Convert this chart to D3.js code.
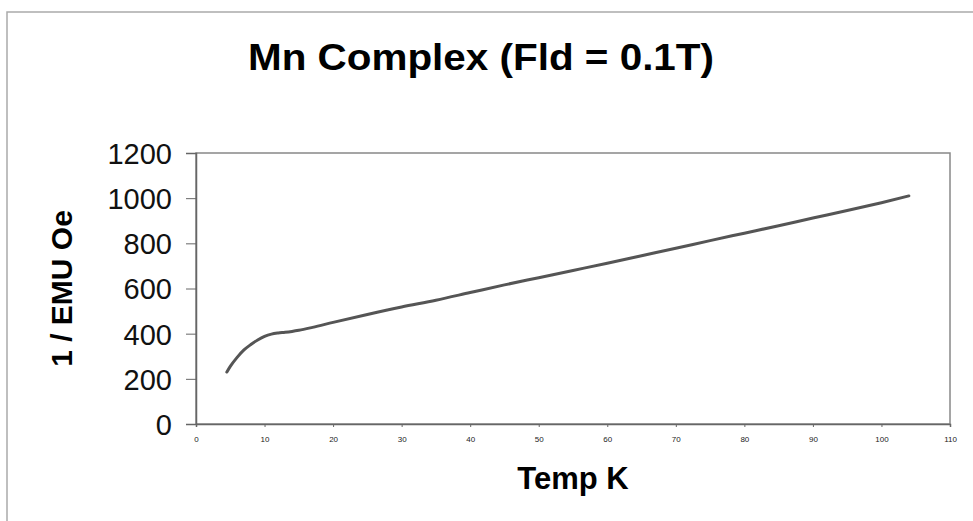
<!DOCTYPE html>
<html>
<head>
<meta charset="utf-8">
<script src="https://cdn.jsdelivr.net/npm/d3@7"></script>
<style>
  body { margin: 0; background: #fff; }
  svg { display: block; font-family: "Liberation Sans", Arial, sans-serif; }
</style>
</head>
<body>
<svg id="svg" width="973" height="521"></svg>
<script>
// temperature (K) and inverse susceptibility
var temps = [4.5, 5, 6, 7, 8, 9, 10, 11, 12, 13, 14, 15, 17, 20, 25, 30, 35, 40, 45, 50,
    55, 60, 65, 70, 75, 80, 85, 90, 95, 100, 104];
var invChi = [230, 255, 295, 328, 352, 372, 388, 398, 403, 406, 410, 415, 428, 450, 485, 518, 548, 582, 616, 648,
    680, 712, 745, 778, 812, 845, 878, 912, 945, 980, 1010];
var xTicks = [0, 10, 20, 30, 40, 50, 60, 70, 80, 90, 100, 110];
var yTicks = [0, 200, 400, 600, 800, 1000, 1200];

function drawChart() {
    var svg = d3.select('#svg');
    var left = 196, right = 950, top = 153, bottom = 424;

    // outer chart frame
    svg.append('rect')
        .attr('x', 7).attr('y', 12)
        .attr('width', 1000).attr('height', 540)
        .attr('fill', 'none')
        .attr('stroke', '#aaa')
        .attr('stroke-width', 1.5);

    var scX = d3.scaleLinear().domain([0, 110]).range([left, right]);
    var scY = d3.scaleLinear().domain([0, 1200]).range([bottom, top]);

    // plot box
    svg.append('rect')
        .attr('x', left).attr('y', top)
        .attr('width', right - left).attr('height', bottom - top)
        .attr('fill', 'none')
        .attr('stroke', '#888')
        .attr('stroke-width', 1.5);

    var yAxis = svg.append('g')
        .attr('transform', 'translate(' + left + ',0)')
        .call(d3.axisLeft(scY).tickValues(yTicks).tickFormat(d3.format('d')).tickSize(10).tickPadding(14));
    yAxis.select('.domain').attr('stroke', '#666').attr('stroke-width', 1.5);
    yAxis.selectAll('line').attr('stroke', '#666');
    yAxis.selectAll('text')
        .attr('font-size', 29)
        .attr('fill', '#111')
        .attr('dy', '0.36em');

    var xAxis = svg.append('g')
        .attr('transform', 'translate(0,' + bottom + ')')
        .call(d3.axisBottom(scX).tickValues(xTicks).tickSize(3).tickPadding(9));
    xAxis.select('.domain').attr('stroke', '#666').attr('stroke-width', 1.5);
    xAxis.selectAll('line').attr('stroke', '#666');
    xAxis.selectAll('text')
        .attr('font-size', 8)
        .attr('fill', '#222');

    var line = d3.line()
        .x((d, i) => scX(temps[i]))
        .y(d => scY(d))
        .curve(d3.curveMonotoneX);
    svg.append('path')
        .datum(invChi)
        .attr('d', line)
        .attr('fill', 'none')
        .attr('stroke', '#555')
        .attr('stroke-width', 3)
        .attr('stroke-linecap', 'round');

    svg.append('text')
        .attr('x', 481).attr('y', 70)
        .attr('text-anchor', 'middle')
        .attr('font-size', 37)
        .attr('font-weight', 'bold')
        .attr('fill', '#000')
        .attr('textLength', 466)
        .attr('lengthAdjust', 'spacingAndGlyphs')
        .text('Mn Complex (Fld = 0.1T)');

    svg.append('text')
        .attr('x', (left + right) / 2).attr('y', 489)
        .attr('text-anchor', 'middle')
        .attr('font-size', 31)
        .attr('font-weight', 'bold')
        .attr('fill', '#000')
        .text('Temp K');

    svg.append('text')
        .attr('transform', 'translate(72,' + (top + bottom) / 2 + ') rotate(-90)')
        .attr('text-anchor', 'middle')
        .attr('font-size', 30)
        .attr('font-weight', 'bold')
        .attr('fill', '#000')
        .text('1 / EMU Oe');
}
drawChart();
</script>
</body>
</html>
